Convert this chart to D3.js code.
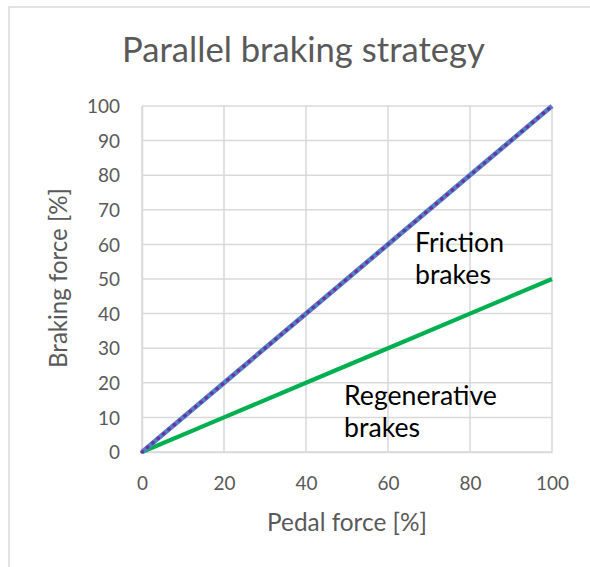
<!DOCTYPE html>
<html><head><meta charset="utf-8">
<script src="https://cdn.jsdelivr.net/npm/d3@7/dist/d3.min.js"></script>
<style>html,body{margin:0;padding:0;background:#fff;}svg{display:block;}</style>
</head><body>
<script>
const pedalForce = [0, 20, 40, 60, 80, 100];
const totalBraking = [0, 20, 40, 60, 80, 100];
const frictionBraking = [0, 20, 40, 60, 80, 100];
const regenBraking = [0, 10, 20, 30, 40, 50];
const xTicks = [0, 20, 40, 60, 80, 100];
const yTicks = [0, 10, 20, 30, 40, 50, 60, 70, 80, 90, 100];
const titleText = "Parallel braking strategy";
const xTitle = "Pedal force [%]";
const yTitle = "Braking force [%]";

const W = 590, H = 567;
const FONT = "Lato, 'Open Sans', sans-serif";
const svg = d3.select("body").append("svg").attr("width", W).attr("height", H);

svg.append("rect").attr("x", 9).attr("y", 7).attr("width", 600).attr("height", 600)
  .attr("fill", "#fff").attr("stroke", "#d9d9d9").attr("stroke-width", 1.5);

const x = d3.scaleLinear().domain([0, 100]).range([142, 552]);
const y = d3.scaleLinear().domain([0, 100]).range([452, 106]);

function fit(sel, target) {
  const n = sel.node();
  const fs = parseFloat(sel.attr("font-size"));
  const w = n.getComputedTextLength();
  if (w > 0) sel.attr("font-size", (fs * target / w).toFixed(2));
  return sel;
}

// gridlines
svg.append("g").selectAll("line").data(yTicks).join("line")
  .attr("x1", x(0)).attr("x2", x(100)).attr("y1", d => y(d)).attr("y2", d => y(d))
  .attr("stroke", "#d9d9d9").attr("stroke-width", 1.5);
svg.append("g").selectAll("line").data(xTicks).join("line")
  .attr("y1", y(0)).attr("y2", y(100)).attr("x1", d => x(d)).attr("x2", d => x(d))
  .attr("stroke", "#d9d9d9").attr("stroke-width", 1.5);

// axes
const yAxis = svg.append("g").attr("transform", `translate(${x(0)},0)`)
  .call(d3.axisLeft(y).tickValues(yTicks).tickSize(0).tickPadding(22));
const xAxis = svg.append("g").attr("transform", `translate(0,${y(0)})`)
  .call(d3.axisBottom(x).tickValues(xTicks).tickSize(0).tickPadding(22));
// size tick font from the width of the widest label
const probe = svg.append("text").attr("font-family", FONT).attr("font-size", 20).text("100");
fit(probe, 33);
const tickFs = probe.attr("font-size");
probe.remove();
[xAxis, yAxis].forEach(a => {
  a.select(".domain").attr("stroke", "#d9d9d9").attr("stroke-width", 1.5);
  a.selectAll("text").attr("font-family", FONT).attr("font-size", tickFs).attr("fill", "#595959");
});
xAxis.selectAll("text").attr("dy", 0).attr("y", 38);
yAxis.selectAll("text").attr("dy", "0.35em");

// lines
const pts = (ys) => pedalForce.map((p, i) => [p, ys[i]]);
const line = d3.line().x(d => x(d[0])).y(d => y(d[1]));
svg.append("path").attr("d", line(pts(regenBraking))).attr("fill", "none")
  .attr("stroke", "#00b050").attr("stroke-width", 4.2);
svg.append("path").attr("d", line(pts(totalBraking))).attr("fill", "none")
  .attr("stroke", "#4f81c4").attr("stroke-width", 4.8);
svg.append("path").attr("d", line(pts(frictionBraking))).attr("fill", "none")
  .attr("stroke", "#7030a0").attr("stroke-width", 3.4).attr("stroke-linecap", "round")
  .attr("stroke-dasharray", "0.5 6.5");

// titles
const t = svg.append("text").attr("x", 303.5).attr("y", 62).attr("text-anchor", "middle")
  .attr("font-family", FONT).attr("font-size", 34).attr("fill", "#595959").text(titleText);
fit(t, 363);
const xt = svg.append("text").attr("x", 347).attr("y", 531).attr("text-anchor", "middle")
  .attr("font-family", FONT).attr("font-size", 21).attr("fill", "#595959").text(xTitle);
fit(xt, 160);
const yt = svg.append("text").attr("transform", "translate(67,278) rotate(-90)").attr("text-anchor", "middle")
  .attr("font-family", FONT).attr("font-size", 21).attr("fill", "#595959").text(yTitle);
fit(yt, 180);

// annotations
const ann = [
  {lines: ["Friction", "brakes"], x: 415, y: 252, w: 89},
  {lines: ["Regenerative", "brakes"], x: 344, y: 405, w: 153}
];
ann.forEach(a => {
  const tx = svg.append("text").attr("x", a.x).attr("y", a.y)
    .attr("font-family", FONT).attr("font-size", 24).attr("fill", "#000").text(a.lines[0]);
  fit(tx, a.w);
  const fs = tx.attr("font-size");
  svg.append("text").attr("x", a.x).attr("y", a.y + 32)
    .attr("font-family", FONT).attr("font-size", fs).attr("fill", "#000").text(a.lines[1]);
});
</script>
</body></html>
